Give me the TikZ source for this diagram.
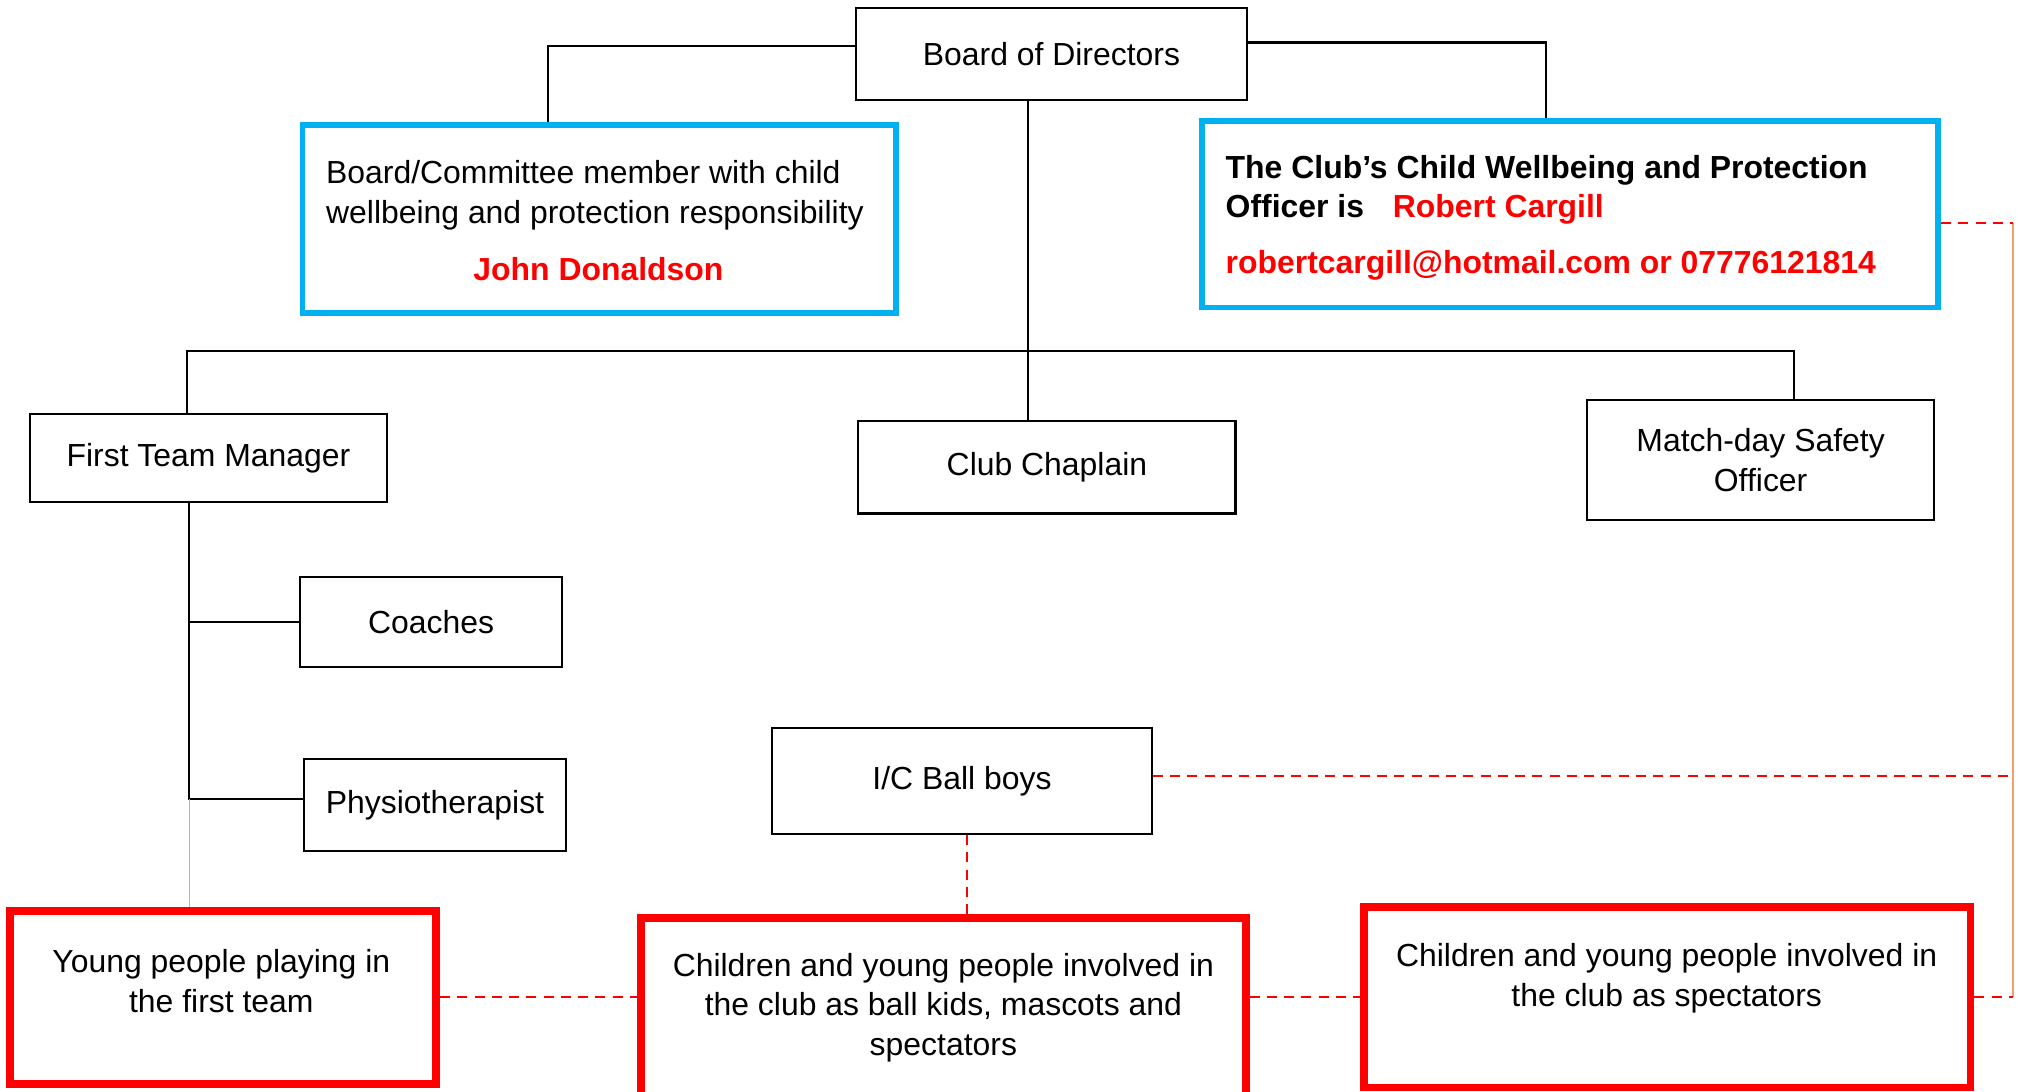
\documentclass[tikz,border=0pt]{standalone}
\usepackage{fontspec}
\setmainfont{Liberation Sans}
\definecolor{boxblue}{RGB}{0,176,240}
\definecolor{railorange}{RGB}{244,160,110}
\newcommand{\chartfont}{\fontsize{12.4}{15.5}\selectfont}
\tikzset{
  every node/.style={font=\chartfont},
  boxsize/.style 2 args={minimum width=#1*0.5pt,minimum height=#2*0.5pt},
  plainbox/.style={draw,line width=0.8pt,inner sep=0pt,align=center},
  bluebox/.style={draw=boxblue,line width=2.2pt,inner sep=0pt},
  redbox/.style={draw=red,line width=3pt,inner sep=0pt},
  txt/.style={inner sep=0pt},
  boldred/.style={txt,text=red,font=\chartfont\bfseries},
  tree/.style={line width=0.8pt},
  reddash/.style={red,line width=0.8pt,dash pattern=on 3.9pt off 2.8pt},
  rail/.style={railorange,line width=0.5pt}
}
\begin{document}
\begin{tikzpicture}[x=0.5pt,y=-0.5pt]
\useasboundingbox (0,0) rectangle (1568,848);
\clip (0,0) rectangle (1568,848);
\node[plainbox,boxsize={304}{72}] (board) at (817,42) {Board of Directors};
\node[bluebox,boxsize={461}{146}] (member) at (465.5,170) {};
\node[txt,anchor=west,align=left] (membertxt) at (253,152) {Board/Committee member with child\\wellbeing and protection responsibility};
\node[boldred] (membername) at (465,209) {John Donaldson};
\node[bluebox,boxsize={572}{145}] (cwpo) at (1220,166.5) {};
\node[txt,anchor=west,align=left,font=\chartfont\bfseries] (cwpotxt) at (952,147.5) {The Club’s Child Wellbeing and Protection\\Officer is\hspace{0.9em}\textcolor{red}{Robert Cargill}};
\node[boldred,anchor=west] (cwpomail) at (952,206) {robertcargill@hotmail.com or 07776121814};
\node[plainbox,boxsize={278}{68}] (ftm) at (162,356) {First Team Manager};
\node[plainbox,boxsize={293}{72}] (chaplain) at (813.5,363) {Club Chaplain};
\node[plainbox,boxsize={270}{93}] (safety) at (1368,357.5) {Match-day Safety\\Officer};
\node[plainbox,boxsize={204}{70}] (coaches) at (335,483) {Coaches};
\node[plainbox,boxsize={204}{71}] (physio) at (338,625.5) {Physiotherapist};
\node[plainbox,boxsize={295}{82}] (ballboys) at (747.5,607) {I/C Ball boys};
\node[redbox,boxsize={331}{134}] (firstteam) at (173.5,775) {};
\node[txt,align=center] (firstteamtxt) at (172,762.5) {Young people playing in\\the first team};
\node[redbox,boxsize={470}{187}] (ballkids) at (733,806.5) {};
\node[txt,align=center] (ballkidstxt) at (733,783) {Children and young people involved in\\the club as ball kids, mascots and\\spectators};
\node[redbox,boxsize={471}{140}] (spectators) at (1295.5,775) {};
\node[txt,align=center] (spectatorstxt) at (1295,760) {Children and young people involved in\\the club as spectators};
\coordinate (jl) at (426,36);
\coordinate (jr) at (1201,33);
\coordinate (trunk) at (799,273);
\coordinate (hl) at (145,273);
\coordinate (hr) at (1394,273);
\coordinate (spine) at (147,621);
\coordinate (rail) at (1564,173);
\coordinate (bbdrop) at (751,603);
\draw[tree] (board.west |- jl) -- (jl) -- (jl |- member.north);
\draw[tree] (board.east |- jr) -- (jr) -- (jr |- cwpo.north);
\draw[tree] (trunk |- board.south) -- (trunk) -- (trunk |- chaplain.north);
\draw[tree] (hl |- ftm.north) -- (hl) -- (hr) -- (hr |- safety.north);
\draw[tree] (spine |- ftm.south) -- (spine) -- (spine -| physio.west);
\draw[tree] (coaches.west) -- (coaches.west -| spine);
\draw[rail] (spine) -- (spine |- firstteam.north);
\draw[rail] (rail) -- (rail |- spectators.east);
\draw[reddash] (cwpo.east |- rail) -- (rail);
\draw[reddash] (ballboys.east |- bbdrop) -- (bbdrop -| rail);
\draw[reddash] (bbdrop |- ballboys.south) -- (bbdrop |- ballkids.north);
\draw[reddash] (firstteam.east) -- (firstteam.east -| ballkids.west);
\draw[reddash] (ballkids.east |- spectators.west) -- (spectators.west);
\draw[reddash] (spectators.east) -- (spectators.east -| rail);
\end{tikzpicture}
\end{document}
